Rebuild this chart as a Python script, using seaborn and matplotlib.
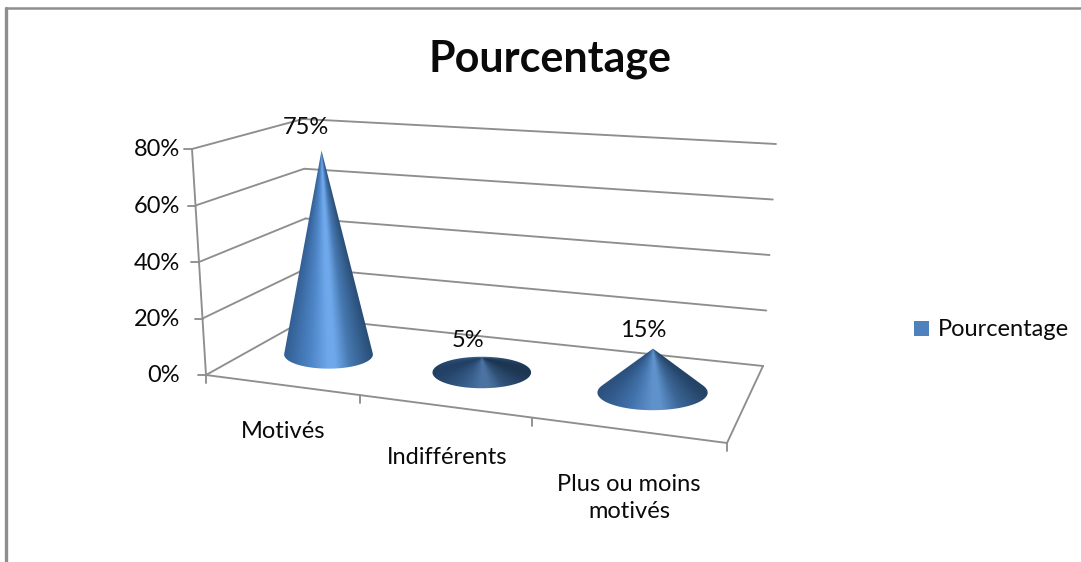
import numpy as np
import matplotlib
matplotlib.use("Agg")
import matplotlib.pyplot as plt
import seaborn as sns
from matplotlib.colors import LinearSegmentedColormap
from matplotlib.patches import Patch, PathPatch
from matplotlib.path import Path

categories = ["Motivés", "Indifférents", "Plus ou moins\nmotivés"]
values = [0.75, 0.05, 0.15]
value_labels = ["75%", "5%", "15%"]
y_levels = [0.0, 0.2, 0.4, 0.6, 0.8]
y_labels = ["0%", "20%", "40%", "60%", "80%"]
series_name = "Pourcentage"
title = "Pourcentage"

sns.set_theme(style="white")
plt.rcParams["font.family"] = ["Lato", "DejaVu Sans"]

W, H = 1081, 562
fig = plt.figure(figsize=(W / 100, H / 100), dpi=100)
ax = fig.add_axes([0, 0, 1, 1])
ax.set_xlim(0, W)
ax.set_ylim(H, 0)
ax.axis("off")

GREY = "#8E8E8E"
TXT = "#0a0a0a"

# perspective frame of the 3-D plot, in pixels
FL0, FL8 = np.array([206., 375.]), np.array([192., 149.])
BL0, BL8 = np.array([308., 318.]), np.array([303., 119.])
BR0, BR8 = np.array([763., 366.]), np.array([776., 144.])
FR0 = np.array([727., 443.])
YMAX = y_levels[-1]


def homography(src, dst):
    A, b = [], []
    for (u, v), (x, y) in zip(src, dst):
        A.append([u, v, 1, 0, 0, 0, -u * x, -v * x])
        A.append([0, 0, 0, u, v, 1, -u * y, -v * y])
        b += [x, y]
    return np.append(np.linalg.solve(np.array(A), np.array(b)), 1).reshape(3, 3)


HM = homography([(0, 0), (1, 0), (1, 1), (0, 1)], [FL0, FR0, BR0, BL0])


def floor(u, v):
    p = HM @ np.array([u, v, 1.0])
    return p[:2] / p[2]


def seg(p, q, lw=1.35):
    sns.lineplot(x=[p[0], q[0]], y=[p[1], q[1]], ax=ax, color=GREY, lw=lw,
                 estimator=None, sort=False, legend=False)


# chart border
seg((6, 8), (W, 8), 1.8)
seg((6, 8), (6, H), 2.4)

# walls and floor
for lvl in y_levels:
    t = lvl / YMAX
    fl = FL0 + t * (FL8 - FL0)
    bl = BL0 + t * (BL8 - BL0)
    br = BR0 + t * (BR8 - BR0)
    seg(fl, bl)
    seg(bl, br)
    seg(fl + np.array([-8, 0]), fl)
seg(FL0, FL8)
seg(FL0, FR0)
seg(FR0, BR0)

n = len(categories)
for i in range(n + 1):
    p = floor(i / n, 0)
    seg(p, p + np.array([0, 8]))

for lvl, lab in zip(y_levels, y_labels):
    t = lvl / YMAX
    fl = FL0 + t * (FL8 - FL0)
    ax.text(180, fl[1] + 1, lab, ha="right", va="center", fontsize=17, color=TXT)

# cones
cmap = LinearSegmentedColormap.from_list("cone", [
    (0.00, "#335F94"), (0.30, "#4E86C8"), (0.50, "#6FA9EC"),
    (0.58, "#6FA9EC"), (0.75, "#4678B0"), (1.00, "#2A4F78")])
shade = [1.0, 0.68, 0.86]
label_off = [(-16, -23), (-14, -18), (-10, -18)]
label_cat = [(283, 431), (447, 457), (629, 498)]
V_POS = 0.47

for i, (val, lab) in enumerate(zip(values, value_labels)):
    u = (i + 0.5) / n
    c = floor(u, V_POS)
    a = 0.305 * (floor((i + 1) / n, V_POS)[0] - floor(i / n, V_POS)[0])
    b = 0.32 * a
    # vertical vector at the cone location, from the frame heights
    back = BL8 - BL0 + u * ((BR8 - BR0) - (BL8 - BL0))
    front = (FL8 - FL0) * (1.12 - 0.12 * (1 - u) + 0.0)
    up = back + (1 - V_POS) * (front - back)
    up = np.array([0.0, up[1]]) if abs(u - 0.5) < 1 else up
    tip = c + up * (val / YMAX)
    tip[0] = c[0] + (-7 if i == 0 else 0.5)

    x0, x1 = c[0] - a - 2, c[0] + a + 2
    y0, y1 = min(tip[1], c[1] - b) - 2, c[1] + b + 2
    xs = np.linspace(x0, x1, 300)
    ys = np.linspace(y0, y1, 300)
    X, Y = np.meshgrid(xs, ys)
    dx, dy = X - tip[0], Y - tip[1]
    ex, ey = tip[0] - c[0], tip[1] - c[1]
    A = (dx / a) ** 2 + (dy / b) ** 2
    B = 2 * (ex * dx / a ** 2 + ey * dy / b ** 2)
    C = (ex / a) ** 2 + (ey / b) ** 2 - 1
    D = np.clip(B ** 2 - 4 * A * C, 0, None)
    s = (-B + np.sqrt(D)) / (2 * np.maximum(A, 1e-9))
    hx = np.clip((ex + s * dx) / a, -1, 1)
    rgb = cmap((hx + 1) / 2)[..., :3] * shade[i]
    im = ax.imshow(rgb, extent=(x0, x1, y1, y0), aspect="auto", zorder=3,
                   interpolation="bilinear")

    # silhouette: tip -> tangent points -> front arc
    d2 = (ex / a) ** 2 + (ey / b) ** 2
    if d2 > 1:
        phi0 = np.arctan2(ey / b, ex / a)
        da = np.arccos(1 / np.sqrt(d2))
        th = np.linspace(phi0 + da, phi0 + 2 * np.pi - da, 120)
        pts = np.column_stack([c[0] + a * np.cos(th), c[1] + b * np.sin(th)])
        pts = np.vstack([tip, pts, tip])
    else:
        th = np.linspace(0, 2 * np.pi, 160)
        pts = np.column_stack([c[0] + a * np.cos(th), c[1] + b * np.sin(th)])
    clip = PathPatch(Path(pts), transform=ax.transData, fc="none", ec="none")
    ax.add_patch(clip)
    im.set_clip_path(clip)

    ax.text(tip[0] + label_off[i][0], tip[1] + label_off[i][1], lab,
            ha="center", va="center", fontsize=17, color=TXT, zorder=4)
    ax.text(label_cat[i][0], label_cat[i][1], categories[i], ha="center",
            va="center", fontsize=17, color=TXT, linespacing=1.35, zorder=4)

ax.set_xlim(0, W)
ax.set_ylim(H, 0)

ax.text(550, 59, title, ha="center", va="center", fontsize=31,
        fontweight="bold", color=TXT)

ax.legend(handles=[Patch(fc="#4F81BD", ec="none", label=series_name)],
          loc="center left", bbox_to_anchor=(893 / W, 1 - 330 / H), frameon=False,
          fontsize=17, handlelength=0.62, handleheight=0.62, handletextpad=0.4,
          labelcolor=TXT)

fig.savefig("out.png", dpi=100, facecolor="white")
